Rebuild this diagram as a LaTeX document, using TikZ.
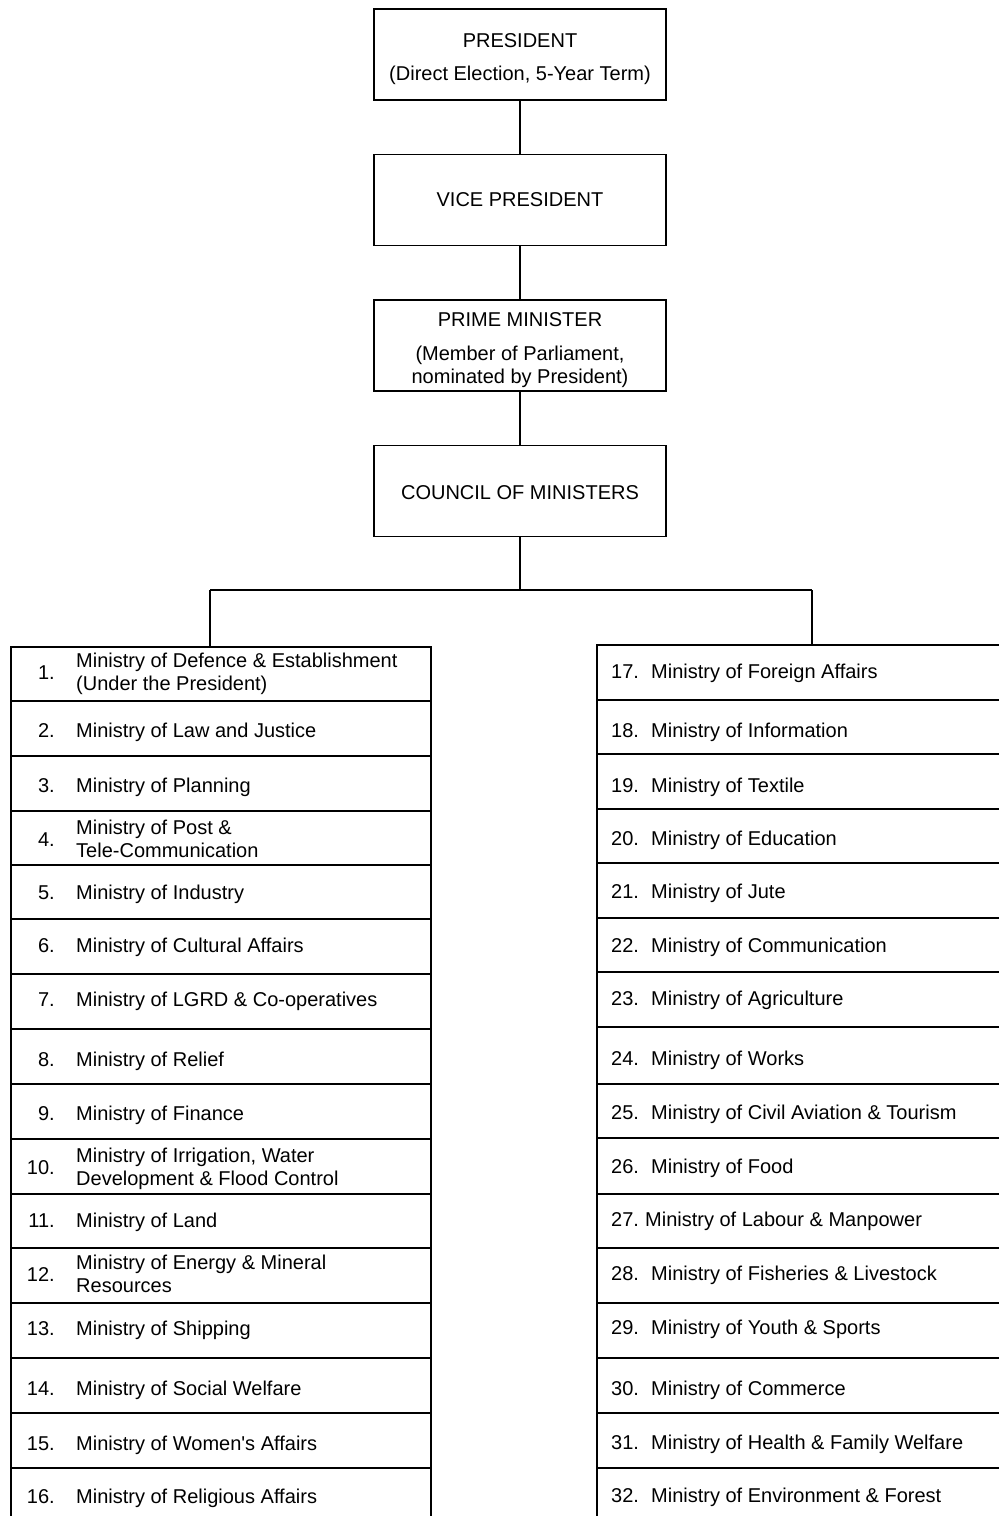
\documentclass[tikz,border=0pt]{standalone}
\usepackage{fontspec}
\setmainfont{Liberation Sans}
\begin{document}
\begin{tikzpicture}[x=1pt,y=-1pt,
  topbox/.style={draw, line width=1.4pt, minimum width=292pt, minimum height=91pt,
    inner sep=0pt, align=center, font=\fontsize{20}{23}\selectfont},
  rowbox/.style={draw, line width=1.5pt, inner sep=0pt, anchor=north west},
  num/.style={inner sep=0pt, font=\fontsize{20}{23}\selectfont,
    execute at begin node=\strut},
  lab/.style={inner sep=0pt, anchor=west, align=left, font=\fontsize{20}{23}\selectfont,
    execute at begin node=\strut, execute at end node=\strut},
  conn/.style={line width=2.2pt},
  thinconn/.style={line width=1.6pt}
]
\useasboundingbox (0,0) rectangle (999,1516);
\clip (0,0) rectangle (999,1516);

% executive chain
\node[topbox] (pres) at (520,54.5)
  {\raisebox{-5pt}[\height][\depth]{\begin{tabular}{@{}c@{}}PRESIDENT\\[10pt](Direct Election, 5-Year Term)\end{tabular}}};
\node[topbox] (vp) at (520,200) {VICE PRESIDENT};
\node[topbox] (pm) at (520,345.5)
  {\raisebox{-5pt}[\height][\depth]{\begin{tabular}{@{}c@{}}PRIME MINISTER\\[11pt](Member of Parliament,\\nominated by President)\end{tabular}}};
\node[topbox] (council) at (520,491) {\raisebox{-2pt}[\height][\depth]{COUNCIL OF MINISTERS}};

\draw[thinconn] (pres.south) -- (vp.north);
\draw[conn] (vp.south) -- (pm.north);
\draw[conn] (pm.south) -- (council.north);

% left column of ministries
\foreach \n/\top/\bot in {1/646/700, 2/700/755, 3/755/810, 4/810/864, 5/864/918,
    6/918/973, 7/973/1028, 8/1028/1083, 9/1083/1138, 10/1138/1193, 11/1193/1247,
    12/1247/1302, 13/1302/1357, 14/1357/1412, 15/1412/1467, 16/1467/1530}
  \node[rowbox, minimum width=420pt, minimum height={(\bot-\top)*1pt}] (L\n) at (10,\top) {};

\foreach \n/\y/\t in {
    1/675/{Ministry of Defence \& Establishment\\(Under the President)},
    2/733/{Ministry of Law and Justice},
    3/788/{Ministry of Planning},
    4/842/{Ministry of Post \&\\Tele-Communication},
    5/895/{Ministry of Industry},
    6/948/{Ministry of Cultural Affairs},
    7/1002/{Ministry of LGRD \& Co-operatives},
    8/1062/{Ministry of Relief},
    9/1116/{Ministry of Finance},
    10/1170/{Ministry of Irrigation, Water\\Development \& Flood Control},
    11/1223/{Ministry of Land},
    12/1277/{Ministry of Energy \& Mineral\\Resources},
    13/1331/{Ministry of Shipping},
    14/1391/{Ministry of Social Welfare},
    15/1446/{Ministry of Women\textquotesingle s Affairs},
    16/1499/{Ministry of Religious Affairs}}
{
  \node[num, anchor=east] (Ln\n) at (55,\y) {\n.};
  \node[lab] (Lt\n) at (76,\y) {\t};
}

% right column of ministries
\foreach \n/\top/\bot in {17/644/699, 18/699/753, 19/753/808, 20/808/862, 21/862/917,
    22/917/971, 23/971/1026, 24/1026/1083, 25/1083/1137, 26/1137/1193, 27/1193/1247,
    28/1247/1302, 29/1302/1357, 30/1357/1412, 31/1412/1467, 32/1467/1530}
  \node[rowbox, minimum width=420pt, minimum height={(\bot-\top)*1pt}] (R\n) at (596,\top) {};

\foreach \n/\y/\x/\t in {
    17/674/651/{Ministry of Foreign Affairs},
    18/733/651/{Ministry of Information},
    19/788/651/{Ministry of Textile},
    20/841/651/{Ministry of Education},
    21/894/651/{Ministry of Jute},
    22/948/651/{Ministry of Communication},
    23/1001/651/{Ministry of Agriculture},
    24/1061/651/{Ministry of Works},
    25/1115/651/{Ministry of Civil Aviation \& Tourism},
    26/1169/651/{Ministry of Food},
    27/1222/645/{Ministry of Labour \& Manpower},
    28/1276/651/{Ministry of Fisheries \& Livestock},
    29/1330/651/{Ministry of Youth \& Sports},
    30/1391/651/{Ministry of Commerce},
    31/1445/651/{Ministry of Health \& Family Welfare},
    32/1498/651/{Ministry of Environment \& Forest}}
{
  \node[num, anchor=west] (Rn\n) at (611,\y) {\n.};
  \node[lab] (Rt\n) at (\x,\y) {\t};
}

% branch from the council to both columns
\coordinate (split) at (520,590);
\coordinate (jl) at (210,590);
\coordinate (jr) at (812,590);
\draw[conn] (council.south) -- (split);
\draw[thinconn] (jl) -- (jr);
\draw[thinconn] (jl) -- (jl |- L1.north);
\draw[thinconn] (jr) -- (jr |- R17.north);
\end{tikzpicture}
\end{document}
